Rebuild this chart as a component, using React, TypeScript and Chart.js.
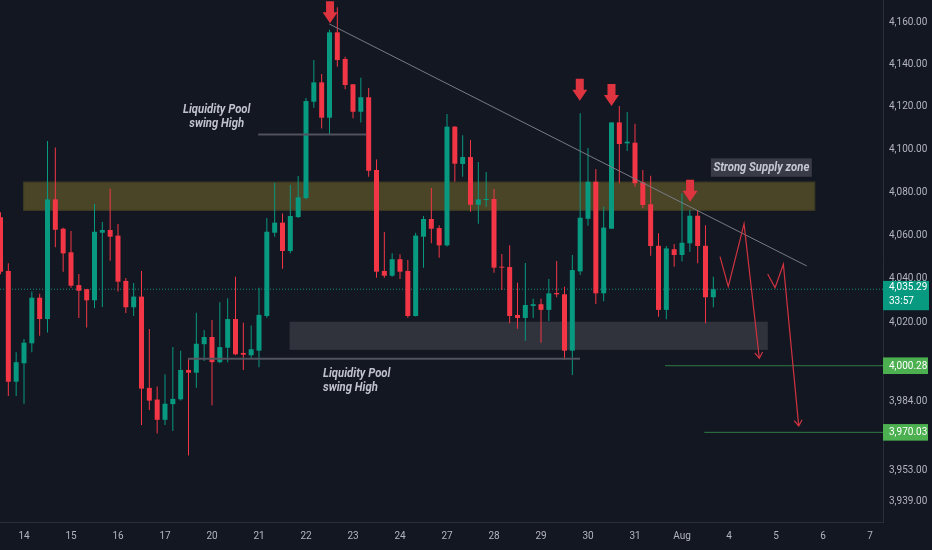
import React, { useEffect, useRef } from "react";
import { Chart, registerables } from "chart.js";

Chart.register(...registerables);

// ---- 4H candles (index 0 .. 91) ----
const opens = [
  4068.5, 4043.7, 3993.0, 4001.4, 4010.5, 4031.4, 4021.6, 4076.8, 4063.2, 4052.3,
  4037.2, 4035.3, 4030.2, 4061.35, 4062.6, 4060.0, 4039.1, 4027.0, 4031.9, 3990.2,
  3984.9, 3975.7, 3982.8, 3985.0, 3998.35, 3997.1, 4010.1, 4013.4, 4001.9, 4008.5,
  4021.6, 4006.1, 4005.05, 4007.15, 4023.0, 4061.35, 4066.0, 4052.9, 4068.6, 4077.4,
  4122.4, 4131.5, 4114.9, 4155.1, 4142.5, 4130.6, 4117.7, 4124.5, 4090.45, 4043.7,
  4041.5, 4049.1, 4043.7, 4023.0, 4059.5, 4067.7, 4063.5, 4055.5, 4110.7, 4093.25,
  4096.5, 4074.3, 4076.5, 4077.0, 4045.5, 4045.5, 4023.5, 4022.1, 4027.6, 4028.4,
  4025.8, 4033.55, 4032.95, 4007.15, 4043.5, 4067.8, 4085.0, 4033.4, 4063.2, 4112.7,
  4102.9, 4103.2, 4084.7, 4074.5, 4055.3, 4025.8, 4053.7, 4051.05, 4056.45, 4069.2,
  4055.3, 4031.6,
];
const highs = [
  4070.8, 4047.2, 4006.4, 4012.5, 4034.2, 4033.2, 4104.0, 4101.0, 4063.7, 4062.1,
  4042.3, 4035.3, 4074.6, 4066.3, 4081.75, 4065.4, 4040.45, 4038.15, 4043.7, 4017.05,
  3990.8, 3996.4, 4008.8, 4007.15, 4003.7, 4024.5, 4016.6, 4021.2, 4029.3, 4031.1,
  4041.05, 4019.9, 4018.6, 4036.0, 4068.2, 4084.5, 4070.3, 4083.5, 4087.7, 4124.15,
  4142.0, 4135.4, 4156.35, 4167.0, 4143.6, 4130.6, 4133.7, 4128.8, 4095.4, 4061.7,
  4051.8, 4051.4, 4048.75, 4061.35, 4069.1, 4082.1, 4064.8, 4116.6, 4111.0, 4106.65,
  4104.5, 4094.2, 4089.5, 4081.6, 4051.5, 4055.5, 4038.3, 4047.35, 4030.9, 4030.9,
  4040.0, 4048.3, 4036.45, 4051.05, 4117.0, 4100.7, 4090.9, 4073.4, 4112.7, 4120.4,
  4117.6, 4112.1, 4090.45, 4087.8, 4061.1, 4055.2, 4056.1, 4079.6, 4071.9, 4071.9,
  4064.8, 4041.05,
];
const lows = [
  4042.2, 3986.5, 3986.5, 3983.0, 4006.4, 4014.0, 4015.4, 4054.6, 4043.35, 4036.0,
  4022.1, 4017.7, 4026.5, 4027.1, 4048.4, 4034.2, 4024.4, 4023.0, 3973.4, 3980.2,
  3969.5, 3973.4, 3970.7, 3984.5, 3959.55, 3990.3, 4002.45, 3982.3, 4001.4, 4001.9,
  4005.0, 3998.35, 4003.95, 3999.6, 4022.2, 4059.5, 4044.7, 4051.8, 4068.2, 4076.8,
  4119.6, 4109.9, 4107.1, 4138.9, 4128.2, 4114.6, 4112.7, 4087.3, 4040.6, 4040.6,
  4041.05, 4040.0, 4022.2, 4022.8, 4045.2, 4056.45, 4049.8, 4055.0, 4085.0, 4087.3,
  4071.1, 4065.5, 4073.4, 4042.9, 4034.9, 4019.7, 4017.2, 4011.7, 4022.1, 4010.8,
  4020.7, 4031.6, 4002.9, 3996.1, 4041.8, 4064.6, 4028.5, 4029.75, 4063.2, 4084.3,
  4099.3, 4082.7, 4072.65, 4050.7, 4022.7, 4021.5, 4045.65, 4048.0, 4052.6, 4047.2,
  4019.7, 4027.0,
];
const closes = [
  4043.35, 3993.0, 4001.9, 4010.8, 4031.4, 4021.6, 4076.8, 4062.7, 4051.8, 4036.9,
  4034.6, 4030.2, 4061.8, 4062.6, 4059.5, 4038.75, 4027.0, 4031.9, 3989.85, 3984.4,
  3975.7, 3983.0, 3985.2, 3998.35, 3997.1, 4010.3, 4013.4, 4001.9, 4008.8, 4021.6,
  4005.5, 4005.3, 4007.8, 4023.5, 4061.8, 4066.0, 4052.9, 4069.1, 4077.75, 4122.7,
  4131.5, 4114.9, 4155.1, 4142.0, 4130.25, 4117.7, 4124.5, 4090.1, 4043.35, 4041.5,
  4049.1, 4043.35, 4023.0, 4060.0, 4067.7, 4063.2, 4055.5, 4110.7, 4093.4, 4096.5,
  4074.3, 4076.8, 4077.0, 4045.2, 4045.2, 4023.0, 4022.1, 4028.05, 4028.4, 4025.8,
  4033.4, 4032.95, 4007.15, 4044.1, 4068.3, 4085.0, 4033.4, 4063.7, 4112.7, 4102.6,
  4103.7, 4084.3, 4074.2, 4055.2, 4025.8, 4054.1, 4051.05, 4056.7, 4069.2, 4055.2,
  4031.6, 4035.29,
];

// ---- axes ----
const dayTickIndex = [3, 9, 15, 21, 27, 33, 39, 45, 51, 57, 63, 69, 75, 81, 87, 93, 99, 105, 111];
const dayTickLabels = ["14", "15", "16", "17", "20", "21", "22", "23", "24", "27", "28", "29", "30", "31", "Aug", "4", "5", "6", "7"];
const priceTicks = [4160, 4140, 4120, 4100, 4080, 4060, 4040, 4020, 3984, 3953, 3939];
const xRange = [-0.064, 112.66];
const yRange = [3929.7, 4170.44];

// ---- price markers ----
const lastPrice = 4035.29;
const countdown = "33:57";
const targetLevels = [4000.28, 3970.03];
const targetStartIndex = [84.83, 89.85];

// ---- drawings ----
const supplyZoneX = [2.9, 104.0];
const supplyZoneY = [4071.5, 4085.0];
const demandZoneX = [36.9, 97.95];
const demandZoneY = [4007.5, 4020.4];
const trendX = [41.98, 102.92];
const trendY = [4159.05, 4046.0];
const liqHighX = [32.9, 46.66];
const liqHighY = 4107.0;
const liqLowX = [23.97, 73.98];
const liqLowY = 4003.5;
const path1X = [91.85, 92.91, 94.92, 96.87];
const path1Y = [4050.3, 4036.45, 4065.4, 4003.7];
const path2X = [97.94, 98.88, 99.94, 101.9];
const path2Y = [4042.3, 4036.0, 4046.8, 3972.95];
const arrowX = [42.07, 73.95, 78.0, 88.03];
const arrowTipY = [4159.4, 4122.9, 4120.4, 4075.7];
const noteTop = [27.6, 4118.5];
const noteBottom = [41.17, 3996.5];
const supplyLabel = [97.13, 4091.6];

const FONT = "Roboto, 'Liberation Sans', sans-serif";
const GREEN = "#089981";
const RED = "#f23645";
const SQUEEZE = 0.87;
const fmt = (v: number) => v.toLocaleString("en-US", { minimumFractionDigits: 2, maximumFractionDigits: 2 });

function narrowText(ctx: CanvasRenderingContext2D, text: string, x: number, y: number, align: "left" | "center") {
  ctx.save();
  ctx.translate(x, y);
  ctx.scale(SQUEEZE, 1);
  ctx.textAlign = align;
  ctx.fillText(text, 0, 0);
  ctx.restore();
}

const overlayPlugin = {
  id: "overlay",
  beforeDatasetsDraw(chart: any) {
    const { ctx } = chart;
    const xs = chart.scales.x, ys = chart.scales.y;
    const px = (v: number) => xs.getPixelForValue(v);
    const py = (v: number) => ys.getPixelForValue(v);
    ctx.save();
    let x0 = px(supplyZoneX[0]), x1 = px(supplyZoneX[1]);
    let y0 = py(supplyZoneY[1]), y1 = py(supplyZoneY[0]);
    ctx.fillStyle = "#4b4527";
    ctx.fillRect(x0, y0, x1 - x0, y1 - y0);
    ctx.strokeStyle = "#3b3822";
    ctx.lineWidth = 1;
    ctx.strokeRect(x0 + 0.5, y0 + 0.5, x1 - x0 - 1, y1 - y0 - 1);
    x0 = px(demandZoneX[0]); x1 = px(demandZoneX[1]);
    y0 = py(demandZoneY[1]); y1 = py(demandZoneY[0]);
    ctx.fillStyle = "#30323c";
    ctx.fillRect(x0, y0, x1 - x0, y1 - y0);
    ctx.restore();
  },
  afterDatasetsDraw(chart: any) {
    const { ctx } = chart;
    const xs = chart.scales.x, ys = chart.scales.y;
    const px = (v: number) => xs.getPixelForValue(v);
    const py = (v: number) => ys.getPixelForValue(v);
    ctx.save();
    ctx.fillStyle = "#dd3440";
    arrowX.forEach((ax, i) => {
      const cx = px(ax), tip = py(arrowTipY[i]);
      const total = 22, headH = 11, headW = 15, shaftW = 8;
      ctx.beginPath();
      ctx.moveTo(cx - shaftW / 2, tip - total);
      ctx.lineTo(cx + shaftW / 2, tip - total);
      ctx.lineTo(cx + shaftW / 2, tip - headH);
      ctx.lineTo(cx + headW / 2, tip - headH);
      ctx.lineTo(cx, tip);
      ctx.lineTo(cx - headW / 2, tip - headH);
      ctx.lineTo(cx - shaftW / 2, tip - headH);
      ctx.closePath();
      ctx.fill();
    });
    ctx.strokeStyle = "#cf3340";
    ctx.lineWidth = 1.2;
    [[path1X, path1Y], [path2X, path2Y]].forEach(([pxs, pys]) => {
      const n = pxs.length;
      const ex = px(pxs[n - 1]), ey = py(pys[n - 1]);
      const sx = px(pxs[n - 2]), sy = py(pys[n - 2]);
      const ang = Math.atan2(ey - sy, ex - sx);
      const L = 7, spread = 0.6;
      ctx.beginPath();
      ctx.moveTo(ex - L * Math.cos(ang - spread), ey - L * Math.sin(ang - spread));
      ctx.lineTo(ex, ey);
      ctx.lineTo(ex - L * Math.cos(ang + spread), ey - L * Math.sin(ang + spread));
      ctx.stroke();
    });
    ctx.font = `italic bold 13px ${FONT}`;
    ctx.fillStyle = "#bfc2ca";
    ctx.textBaseline = "middle";
    let tx = px(noteTop[0]), ty = py(noteTop[1]);
    narrowText(ctx, "Liquidity Pool", tx, ty, "center");
    narrowText(ctx, "swing High", tx, ty + 13.5, "center");
    tx = px(noteBottom[0]); ty = py(noteBottom[1]);
    narrowText(ctx, "Liquidity Pool", tx, ty, "left");
    narrowText(ctx, "swing High", tx, ty + 14, "left");
    const label = "Strong Supply zone";
    const w = ctx.measureText(label).width * SQUEEZE + 5;
    const cx = px(supplyLabel[0]), cy = py(supplyLabel[1]);
    ctx.fillStyle = "#393c47";
    ctx.fillRect(cx - w / 2, cy - 9.2, w, 18.4);
    ctx.fillStyle = "#c5c8d0";
    narrowText(ctx, label, cx, cy + 0.5, "center");
    ctx.restore();
  },
  afterDraw(chart: any) {
    const { ctx, chartArea } = chart;
    const ys = chart.scales.y;
    const py = (v: number) => ys.getPixelForValue(v);
    const left = chartArea.right;
    const boxW = 46;
    ctx.save();
    ctx.font = `10px ${FONT}`;
    ctx.textBaseline = "middle";
    ctx.textAlign = "left";
    let y = py(lastPrice);
    ctx.fillStyle = GREEN;
    ctx.fillRect(left, y - 8.3, boxW, 29.3);
    ctx.fillStyle = "#ffffff";
    ctx.fillText(fmt(lastPrice), left + 6, y - 1.5);
    ctx.fillText(countdown, left + 6, y + 12.7);
    targetLevels.forEach((lv) => {
      y = py(lv);
      ctx.fillStyle = "#4caf50";
      ctx.fillRect(left, y - 8.3, boxW - 1, 16.6);
      ctx.fillStyle = "#ffffff";
      ctx.fillText(fmt(lv), left + 6, y + 0.5);
    });
    ctx.restore();
  },
};

export default function App() {
  const ref = useRef<HTMLCanvasElement>(null);
  useEffect(() => {
    const idx = opens.map((_, i) => i);
    const colors = idx.map((i) => (closes[i] >= opens[i] ? GREEN : RED));
    const lineDs = (data: { x: number; y: number }[], color: string, width: number, order: number, dash: number[] = []) => ({
      type: "line" as const,
      data,
      borderColor: color,
      borderWidth: width,
      borderDash: dash,
      pointRadius: 0,
      fill: false,
      tension: 0,
      order,
    });
    const chart = new Chart(ref.current as HTMLCanvasElement, {
      type: "bar",
      data: {
        datasets: [
          lineDs([{ x: xRange[0], y: lastPrice }, { x: xRange[1], y: lastPrice }], "#1a8c7c", 1, 10, [1, 2]),
          {
            type: "bar",
            data: idx.map((i) => ({ x: i, y: [lows[i], highs[i]] })),
            backgroundColor: colors,
            barThickness: 1,
            minBarLength: 1,
            grouped: false,
            inflateAmount: 0,
            order: 9,
          } as any,
          {
            type: "bar",
            data: idx.map((i) => ({ x: i, y: [opens[i], closes[i]] })),
            backgroundColor: colors,
            barThickness: 5,
            minBarLength: 1,
            grouped: false,
            inflateAmount: 0,
            order: 8,
          } as any,
          lineDs(liqHighX.map((x) => ({ x, y: liqHighY })), "#50535d", 2, 5),
          lineDs(liqLowX.map((x) => ({ x, y: liqLowY })), "#50535d", 2, 5),
          lineDs([{ x: targetStartIndex[0], y: targetLevels[0] }, { x: xRange[1], y: targetLevels[0] }], "#2f7a45", 1, 5),
          lineDs([{ x: targetStartIndex[1], y: targetLevels[1] }, { x: xRange[1], y: targetLevels[1] }], "#2f7a45", 1, 5),
          lineDs(trendX.map((x, i) => ({ x, y: trendY[i] })), "#787b86", 1, 4),
          lineDs(path1X.map((x, i) => ({ x, y: path1Y[i] })), "#cf3340", 1.2, 3),
          lineDs(path2X.map((x, i) => ({ x, y: path2Y[i] })), "#cf3340", 1.2, 3),
        ] as any,
      },
      options: {
        responsive: false,
        maintainAspectRatio: false,
        animation: false,
        events: [],
        layout: { padding: 0, autoPadding: false },
        plugins: { legend: { display: false }, tooltip: { enabled: false } },
        scales: {
          x: {
            type: "linear",
            position: "bottom",
            min: xRange[0],
            max: xRange[1],
            bounds: "data",
            offset: false,
            grid: { display: false, drawTicks: false },
            border: { display: true, color: "#2a2e39" },
            afterBuildTicks: (s: any) => {
              s.ticks = dayTickIndex.map((v) => ({ value: v }));
            },
            afterFit: (s: any) => {
              s.height = 28;
              s.paddingLeft = 0;
              s.paddingRight = 0;
            },
            ticks: {
              autoSkip: false,
              maxRotation: 0,
              minRotation: 0,
              padding: 8,
              color: "#b2b5be",
              font: { family: FONT, size: 10 },
              callback: (v: any) => {
                const k = dayTickIndex.indexOf(Number(v));
                return k >= 0 ? dayTickLabels[k] : "";
              },
            },
          },
          y: {
            type: "logarithmic",
            position: "right",
            min: yRange[0],
            max: yRange[1],
            bounds: "data",
            beginAtZero: false,
            grid: { display: false, drawTicks: false },
            border: { display: true, color: "#2a2e39" },
            afterBuildTicks: (s: any) => {
              s.ticks = priceTicks.map((v) => ({ value: v }));
            },
            afterFit: (s: any) => {
              s.width = 49;
              s.paddingTop = 0;
              s.paddingBottom = 0;
            },
            ticks: {
              autoSkip: false,
              padding: 6,
              color: "#b2b5be",
              font: { family: FONT, size: 10 },
              callback: (v: any) => fmt(Number(v)),
            },
          },
        } as any,
      },
      plugins: [overlayPlugin],
    });
    return () => chart.destroy();
  }, []);
  return (
    <div style={{ position: "fixed", left: 0, top: 0, width: 932, height: 550, background: "#131722" }}>
      <canvas ref={ref} width={932} height={550} style={{ display: "block", width: 932, height: 550 }} />
    </div>
  );
}
